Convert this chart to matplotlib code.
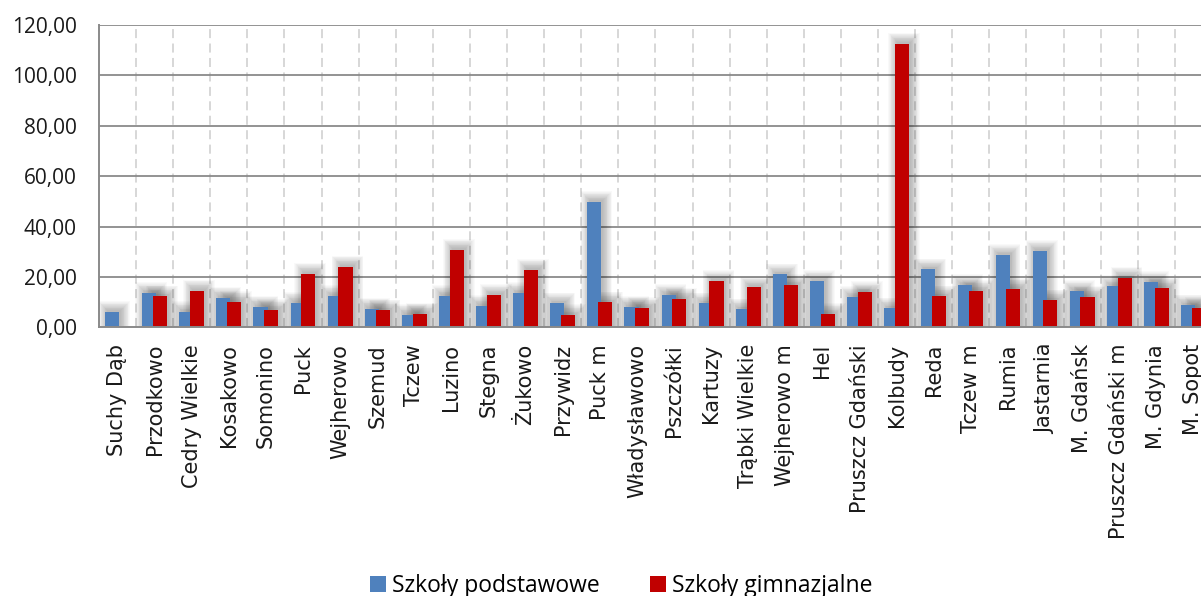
import matplotlib
matplotlib.use("Agg")
import matplotlib.pyplot as plt
from matplotlib.patches import Rectangle, Patch
import numpy as np

# Gminy / miasta
categories = [
    "Suchy Dąb", "Przodkowo", "Cedry Wielkie", "Kosakowo", "Somonino", "Puck",
    "Wejherowo", "Szemud", "Tczew", "Luzino", "Stegna", "Żukowo", "Przywidz",
    "Puck m", "Władysławowo", "Pszczółki", "Kartuzy", "Trąbki Wielkie",
    "Wejherowo m", "Hel", "Pruszcz Gdański", "Kolbudy", "Reda", "Tczew m",
    "Rumia", "Jastarnia", "M. Gdańsk", "Pruszcz Gdański m", "M. Gdynia",
    "M. Sopot",
]

podstawowe = [6.1, 13.5, 6.0, 11.8, 8.2, 9.7, 12.4, 7.4, 5.0, 12.4, 8.5, 13.5,
              9.5, 49.7, 8.1, 12.8, 9.5, 7.1, 21.0, 18.4, 12.0, 7.5, 23.0, 16.7,
              28.6, 30.3, 14.4, 16.4, 18.0, 8.7]

gimnazjalne = [0.0, 12.3, 14.6, 10.1, 6.9, 21.3, 24.1, 6.7, 5.4, 30.8, 12.8,
               22.8, 4.8, 9.9, 7.7, 11.4, 18.3, 16.0, 16.7, 5.3, 13.9, 112.6,
               12.3, 14.4, 15.3, 10.7, 12.2, 19.7, 15.7, 7.7]

series_names = ["Szkoły podstawowe", "Szkoły gimnazjalne"]
series_colors = ["#4F81BD", "#C00000"]
y_ticks = [0, 20, 40, 60, 80, 100, 120]
y_tick_labels = ["0,00", "20,00", "40,00", "60,00", "80,00", "100,00", "120,00"]

W, H, DPI = 1201, 596, 100
fig = plt.figure(figsize=(W / DPI, H / DPI), dpi=DPI)

ax_left, ax_right = 98.9, 1212.0
ax_top, ax_bottom = 25.0, 327.3
ax = fig.add_axes([ax_left / W, 1 - ax_bottom / H,
                   (ax_right - ax_left) / W, (ax_bottom - ax_top) / H])

n = len(categories)
x = np.arange(n)
ax.set_xlim(-0.5, n - 0.5)
ax.set_ylim(0, 120)

# pixel -> data conversion for the soft shadows
px_x = n / (ax_right - ax_left)
px_y = 120 / (ax_bottom - ax_top)

bar_w = 0.38
offsets = [-0.145, 0.145]


def draw_shadow(xc, h, zorder=2):
    """Soft drop shadow built from stacked translucent rectangles."""
    if h <= 0:
        return
    dx, dy = 2.0, 2.0
    for r in range(0, 12):
        ax.add_patch(Rectangle(
            (xc - bar_w / 2 + (dx - r * 0.8) * px_x, 0),
            bar_w + 2 * r * 0.8 * px_x,
            h + (dy + r * 0.8) * px_y,
            facecolor="black", edgecolor="none", alpha=0.022,
            zorder=zorder, clip_on=True))


for vals, off in zip([podstawowe, gimnazjalne], offsets):
    for xi, v in zip(x, vals):
        draw_shadow(xi + off, v)

ax.bar(x + offsets[0], podstawowe, width=bar_w, color=series_colors[0],
       zorder=3, linewidth=0)
ax.bar(x + offsets[1], gimnazjalne, width=bar_w, color=series_colors[1],
       zorder=4, linewidth=0)

# horizontal gridlines
for yt in y_ticks[1:]:
    ax.axhline(yt, color="#8A8A8A", linewidth=1.3, zorder=1)
# dashed category separators
for xb in np.arange(0.5, n - 0.5, 1.0):
    ax.axvline(xb, color="#D4D4D4", linewidth=1.3, linestyle=(0, (5, 3)),
               zorder=0.5)

for side in ["top", "right"]:
    ax.spines[side].set_visible(False)
for side in ["left", "bottom"]:
    ax.spines[side].set_color("#8A8A8A")
    ax.spines[side].set_linewidth(1.4)
    ax.spines[side].set_zorder(5)

ax.set_yticks(y_ticks)
ax.set_yticklabels(y_tick_labels, fontsize=15, family="Open Sans",
                   color="#1a1a1a")
ax.tick_params(axis="y", length=0, pad=16)

ax.set_xticks(x)
ax.set_xticklabels(categories, rotation=90, fontsize=15,
                   family="DejaVu Sans", color="#1a1a1a", va="top", ha="center")
ax.tick_params(axis="x", length=0, pad=12)

handles = [Patch(facecolor=c, edgecolor="none") for c in series_colors]
fig.legend(handles, series_names, loc="center",
           bbox_to_anchor=(621 / W, 1 - 586 / H), ncol=2, frameon=False,
           prop={"family": "Open Sans", "size": 16.5},
           handlelength=0.7, handleheight=0.7, handletextpad=0.25,
           columnspacing=2.2, borderpad=0)

fig.savefig("out.png", dpi=DPI)
